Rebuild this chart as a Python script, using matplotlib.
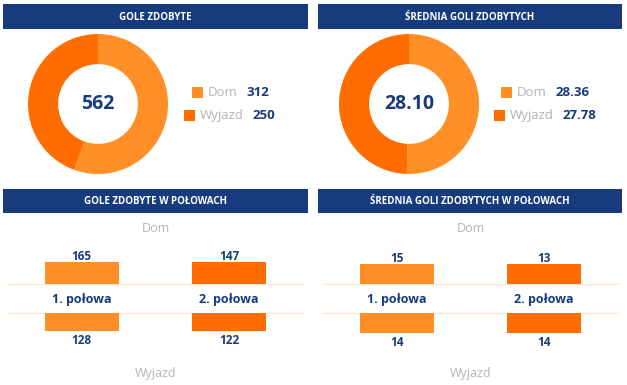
import matplotlib
matplotlib.use("Agg")
import matplotlib.pyplot as plt
from matplotlib.patches import Rectangle

# data
titles = ["GOLE ZDOBYTE", "ŚREDNIA GOLI ZDOBYTYCH",
          "GOLE ZDOBYTE W POŁOWACH", "ŚREDNIA GOLI ZDOBYTYCH W POŁOWACH"]
series = ["Dom", "Wyjazd"]
goals_total = [312, 250]
goals_total_label = "562"
avg_total = [28.36, 27.78]
avg_total_label = "28.10"
halves = ["1. połowa", "2. połowa"]
goals_home_halves = [165, 147]
goals_away_halves = [128, 122]
avg_home_halves = [15, 13]
avg_away_halves = [14, 14]

NAVY = "#173b7c"
LIGHT = "#ff8f26"
DARK = "#ff6d00"
GREY = "#b4b4b4"
PEACH = "#fde8d2"
W, H = 627, 385

plt.rcParams["font.family"] = ["Open Sans", "DejaVu Sans"]

fig = plt.figure(figsize=(W / 100, H / 100), dpi=100)
bg = fig.add_axes([0, 0, 1, 1])
bg.set_xlim(0, W)
bg.set_ylim(H, 0)
bg.axis("off")


def box(x0, y0, x1, y1):
    # pixel box -> figure fraction rect
    return [x0 / W, 1 - y1 / H, (x1 - x0) / W, (y1 - y0) / H]


def header(x0, x1, y0, y1, text):
    bg.add_patch(Rectangle((x0, y0), x1 - x0, y1 - y0, color=NAVY, lw=0))
    bg.text((x0 + x1) / 2, (y0 + y1) / 2 + 0.5, text, color="white",
            fontsize=7, fontweight="bold", ha="center", va="center")


def donut(cx, cy, values, center_text, fmt, legend_x):
    ax = fig.add_axes(box(cx - 70, cy - 70, cx + 70, cy + 70))
    ax.pie(values, colors=[LIGHT, DARK], startangle=90, counterclock=False,
           radius=1, wedgeprops=dict(width=0.43, linewidth=0))
    ax.set_xlim(-1, 1)
    ax.set_ylim(-1, 1)
    ax.set_aspect("equal")
    ax.text(0, 0, center_text, ha="center", va="center", color=NAVY,
            fontsize=14, fontweight="bold")
    # legend rows
    for i, (name, v, col) in enumerate(zip(series, values, [LIGHT, DARK])):
        y = 92.5 + i * 23
        x = legend_x[i]
        bg.add_patch(Rectangle((x, y - 5.5), 11, 11, color=col, lw=0))
        t = bg.text(x + 16, y, name, color=GREY, fontsize=9.5,
                    ha="left", va="center")
        fig.canvas.draw()
        bb = t.get_window_extent()
        bg.text(x + 16 + bb.width + 9, y, fmt(v), color=NAVY, fontsize=9.5,
                fontweight="bold", ha="left", va="center")


def halves_panel(x0, x1, home, away, totals):
    cx = (x0 + x1) / 2
    bg.text(cx, 228, series[0], color=GREY, fontsize=9, ha="center", va="center")
    bg.text(cx, 373, series[1], color=GREY, fontsize=9, ha="center", va="center")
    for y in (284, 313):
        bg.plot([x0, x1], [y, y], color=PEACH, lw=1)
    total = sum(totals)
    top = fig.add_axes(box(x0, 244, x1, 284))
    bot = fig.add_axes(box(x0, 313, x1, 353))
    pos = range(len(halves))
    top.bar(pos, [totals[0]] * len(halves), width=0.5, color=[LIGHT, DARK])
    bot.bar(pos, [totals[1]] * len(halves), width=0.5, color=[LIGHT, DARK])
    top.set_ylim(0, total)
    bot.set_ylim(total, 0)
    for a in (top, bot):
        a.set_xlim(-0.5, 1.5)
        a.axis("off")
    for i in pos:
        top.annotate(str(home[i]), (i, totals[0]), xytext=(0, 1.5),
                     textcoords="offset points", ha="center", va="baseline",
                     color=NAVY, fontsize=8.5, fontweight="bold")
        bot.annotate(str(away[i]), (i, totals[1]), xytext=(0, -2.5),
                     textcoords="offset points", ha="center", va="top",
                     color=NAVY, fontsize=8.5, fontweight="bold")
        bg.text(x0 + (x1 - x0) * (0.5 + i) / 2, 299.5, halves[i], color=NAVY,
                fontsize=9, fontweight="bold", ha="center", va="center")


header(3, 308, 4, 29, titles[0])
header(318, 622, 4, 29, titles[1])
header(3, 308, 189, 213, titles[2])
header(318, 622, 189, 213, titles[3])

donut(98, 104, goals_total, goals_total_label, lambda v: str(v), [192, 184])
donut(409, 104, avg_total, avg_total_label, lambda v: f"{v:.2f}", [501, 494])

halves_panel(8, 303, goals_home_halves, goals_away_halves, goals_total)
halves_panel(323, 618, avg_home_halves, avg_away_halves, avg_total)

fig.savefig("out.png", dpi=100)
